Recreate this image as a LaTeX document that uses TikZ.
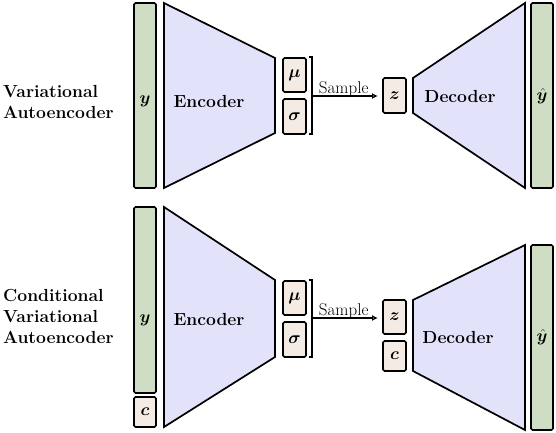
\documentclass[tikz,border=0pt]{standalone}
\usepackage{fontspec}
\usepackage{amsmath}
\usepackage{bm}
\usetikzlibrary{arrows.meta}
\definecolor{bargreen}{RGB}{207,221,196}
\definecolor{trapblue}{RGB}{226,226,250}
\definecolor{boxbeige}{RGB}{244,235,229}
\tikzset{
  every node/.style={font=\fontsize{17.5}{21}\selectfont},
  bar/.style={draw, line width=1.7pt, fill=bargreen, rounded corners=1.5pt},
  smallbox/.style={draw, line width=1.7pt, fill=boxbeige, rounded corners=1.5pt},
  trap/.style={draw, line width=1.7pt, fill=trapblue, line join=miter},
  lbl/.style={inner sep=0pt, font=\fontsize{17.5}{21}\selectfont\bfseries},
  sidelbl/.style={inner sep=0pt, align=left, anchor=west, font=\fontsize{17.5}{21}\selectfont\bfseries},
  brk/.style={line width=1.7pt},
  samplearrow/.style={line width=1.7pt, -{Latex[open,length=6pt,width=6pt]}},
  samplelbl/.style={inner sep=0pt, anchor=base, font=\fontsize{17}{20}\selectfont},
}
\begin{document}
\begin{tikzpicture}[x=1pt,y=-1pt]
\useasboundingbox (0,0) rectangle (556,432);

% ---------- Top: VAE ----------
\node[sidelbl] (vaelbl) at (3,102) {Variational\\Autoencoder};
\draw[bar] (134,3) rectangle (156,188);
\node[lbl] (y1) at (145,101) {$\bm{y}$};
\draw[trap] (164,3) -- (275,58) -- (275,133) -- (164,188) -- cycle;
\node[lbl] (enc1) at (209,101) {Encoder};
\draw[smallbox] (283,58) rectangle (306,92);
\node[lbl] (mu1) at (294.5,75) {$\bm{\mu}$};
\draw[smallbox] (283,99) rectangle (306,134);
\node[lbl] (sig1) at (294.5,116.5) {$\bm{\sigma}$};
\draw[brk] (309,57) -- (312,57) -- (312,134) -- (309,134);
\coordinate (b1) at (312,96);
\draw[smallbox] (383,78) rectangle (406,113);
\coordinate (z1w) at (383,96);
\node[lbl] (z1) at (394.5,95.5) {$\bm{z}$};
\draw[samplearrow] (b1) -- ([xshift=-5pt]z1w) node[samplelbl, pos=0.48, yshift=3pt] (s1) {Sample};
\draw[trap] (413,78) -- (525,3) -- (525,188) -- (413,113) -- cycle;
\node[lbl] (dec1) at (460,96) {Decoder};
\draw[bar] (531,3) rectangle (553,188);
\node[lbl] (yh1) at (542,96) {$\hat{\bm{y}}$};

% ---------- Bottom: CVAE ----------
\node[sidelbl] (cvaelbl) at (3,316) {Conditional\\Variational\\Autoencoder};
\draw[bar] (134,207) rectangle (156,393);
\node[lbl] (y2) at (145,320) {$\bm{y}$};
\draw[smallbox] (134,397) rectangle (156,427);
\node[lbl] (c2a) at (145,412) {$\bm{c}$};
\draw[trap] (164,207) -- (275,280) -- (275,357) -- (164,427) -- cycle;
\node[lbl] (enc2) at (209,319) {Encoder};
\draw[smallbox] (283,281) rectangle (306,315);
\node[lbl] (mu2) at (294.5,298) {$\bm{\mu}$};
\draw[smallbox] (283,322) rectangle (306,357);
\node[lbl] (sig2) at (294.5,339.5) {$\bm{\sigma}$};
\draw[brk] (309,280) -- (312,280) -- (312,357) -- (309,357);
\coordinate (b2) at (312,318);
\draw[smallbox] (383,300) rectangle (406,334);
\coordinate (z2w) at (383,318);
\node[lbl] (z2) at (394.5,317) {$\bm{z}$};
\draw[smallbox] (383,341) rectangle (406,371);
\node[lbl] (c2b) at (394.5,356) {$\bm{c}$};
\draw[samplearrow] (b2) -- ([xshift=-5pt]z2w) node[samplelbl, pos=0.48, yshift=3pt] (s2) {Sample};
\draw[trap] (413,300) -- (525,245) -- (525,430) -- (413,371) -- cycle;
\node[lbl] (dec2) at (458,337) {Decoder};
\draw[bar] (531,245) rectangle (553,430);
\node[lbl] (yh2) at (542,337) {$\hat{\bm{y}}$};
\end{tikzpicture}
\end{document}
